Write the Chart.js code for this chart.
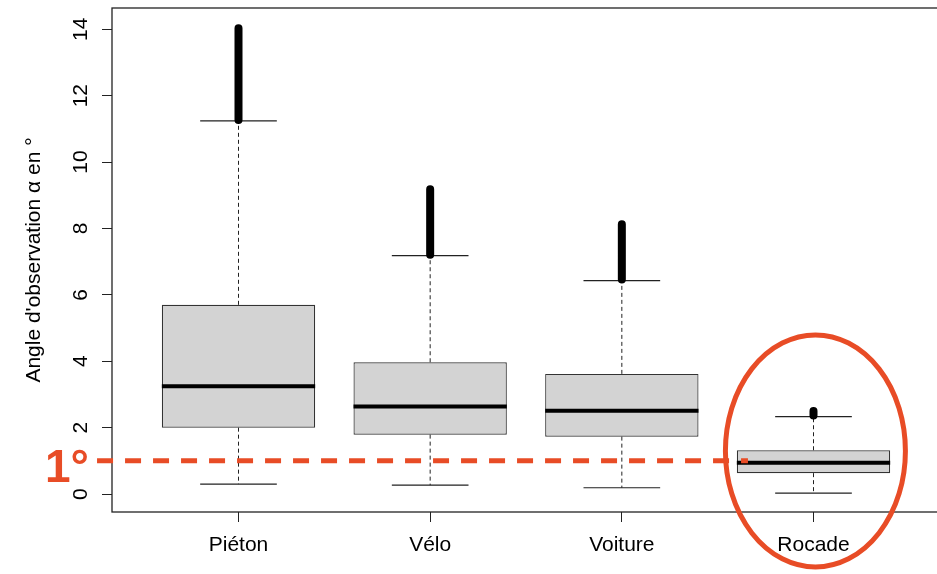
<!DOCTYPE html>
<html>
<head>
<meta charset="utf-8">
<script src="https://cdn.jsdelivr.net/npm/chart.js@4.4.1/dist/chart.umd.min.js"></script>
<style>
  html, body { margin: 0; padding: 0; background: #fff; overflow: hidden; }
  #wrap { width: 937px; height: 574px; overflow: hidden; }
  canvas { display: block; }
</style>
</head>
<body>
<div id="wrap"><canvas id="chart" width="960" height="574"></canvas></div>
<script>
// Box-plot summaries (observation angle, degrees)
const categories = ['Piéton', 'Vélo', 'Voiture', 'Rocade'];
const lowerWhisker = [0.30, 0.27, 0.19, 0.03];
const q1 = [2.00, 1.79, 1.73, 0.63];
const median = [3.25, 2.64, 2.51, 0.94];
const q3 = [5.70, 3.97, 3.62, 1.32];
const upperWhisker = [11.24, 7.18, 6.43, 2.33];
// outliers are so dense they merge into one thick stroke: lowest / highest outlier
const outlierLow = [11.27, 7.21, 6.46, 2.37];
const outlierHigh = [14.03, 9.18, 8.13, 2.50];
const xTicks = [1, 2, 3, 4];
const yTicks = [0, 2, 4, 6, 8, 10, 12, 14];
const refAngle = 1; // the "1°" reference line

const RED = '#e84c26';
const BOX_HALF = 0.4;    // R boxwex 0.8
const STAPLE_HALF = 0.2; // R staplewex 0.5

Chart.defaults.font.family = "'Liberation Sans', Arial, sans-serif";
Chart.defaults.color = '#000';

// helper: list of [from, to] point pairs -> one line dataset with gaps between them
function segments(pairs) {
  const out = [];
  pairs.forEach(p => { out.push(p[0], p[1], { x: p[1].x, y: null }); });
  return out;
}

const boxData = categories.map((c, i) => ({ x: xTicks[i], y: [q1[i], q3[i]] }));
const whiskerData = segments(categories.flatMap((c, i) => [
  [{ x: xTicks[i], y: q3[i] }, { x: xTicks[i], y: upperWhisker[i] }],
  [{ x: xTicks[i], y: q1[i] }, { x: xTicks[i], y: lowerWhisker[i] }]
]));
const stapleData = segments(categories.flatMap((c, i) => [
  [{ x: xTicks[i] - STAPLE_HALF, y: upperWhisker[i] }, { x: xTicks[i] + STAPLE_HALF, y: upperWhisker[i] }],
  [{ x: xTicks[i] - STAPLE_HALF, y: lowerWhisker[i] }, { x: xTicks[i] + STAPLE_HALF, y: lowerWhisker[i] }]
]));
const medianData = segments(categories.map((c, i) =>
  [{ x: xTicks[i] - BOX_HALF, y: median[i] }, { x: xTicks[i] + BOX_HALF, y: median[i] }]));
const outlierData = segments(categories.map((c, i) =>
  [{ x: xTicks[i], y: outlierLow[i] }, { x: xTicks[i], y: outlierHigh[i] }]));

const lineDefaults = { type: 'line', pointRadius: 0, fill: false, tension: 0, spanGaps: false };

// R-style closed frame around the plot region
const framePlugin = {
  id: 'frame',
  afterDraw(chart) {
    const { ctx, chartArea: a } = chart;
    ctx.save();
    ctx.strokeStyle = '#222';
    ctx.lineWidth = 1.3;
    ctx.strokeRect(a.left, a.top, a.right - a.left, a.bottom - a.top);
    ctx.restore();
  }
};

// red overlay: dashed 1° line, its label and the ellipse around "Rocade"
const highlightPlugin = {
  id: 'highlight',
  afterDraw(chart) {
    const { ctx } = chart;
    const xs = chart.scales.x, ys = chart.scales.y;
    const yRef = ys.getPixelForValue(refAngle);
    ctx.save();
    ctx.strokeStyle = RED;
    ctx.fillStyle = RED;
    ctx.lineWidth = 5;
    ctx.setLineDash([16, 12]);
    ctx.beginPath();
    ctx.moveTo(xs.getPixelForValue(0.262), yRef);
    ctx.lineTo(xs.getPixelForValue(3.658), yRef);
    ctx.stroke();
    ctx.setLineDash([]);
    ctx.font = "bold 46px 'Liberation Sans', Arial, sans-serif";
    ctx.textBaseline = 'alphabetic';
    ctx.textAlign = 'left';
    ctx.fillText('1°', 45, yRef + 21.5);
    ctx.beginPath();
    ctx.ellipse(xs.getPixelForValue(4.01), ys.getPixelForValue(1.3), 90, 116, 0, 0, Math.PI * 2);
    ctx.stroke();
    ctx.restore();
  }
};

new Chart(document.getElementById('chart'), {
  type: 'bar',
  data: {
    datasets: [
      {
        type: 'bar',
        label: 'box',
        data: boxData,
        backgroundColor: '#d3d3d3',
        borderColor: '#333',
        borderWidth: 1.2,
        borderSkipped: false,
        barPercentage: 0.8,
        categoryPercentage: 1,
        order: 5
      },
      { ...lineDefaults, label: 'whiskers', data: whiskerData, borderColor: '#222', borderWidth: 1, borderDash: [4, 3], order: 4 },
      { ...lineDefaults, label: 'staples', data: stapleData, borderColor: '#222', borderWidth: 1.2, order: 3 },
      { ...lineDefaults, label: 'median', data: medianData, borderColor: '#000', borderWidth: 4, order: 2 },
      { ...lineDefaults, label: 'outliers', data: outlierData, borderColor: '#000', borderWidth: 8,
        borderCapStyle: 'round', order: 1 }
    ]
  },
  options: {
    responsive: false,
    animation: false,
    layout: { padding: { top: 8, right: 20, bottom: 0, left: 0 } },
    plugins: { legend: { display: false }, tooltip: { enabled: false } },
    scales: {
      x: {
        type: 'linear',
        min: 0.34,
        max: 4.66,
        offset: false,
        afterBuildTicks: s => { s.ticks = xTicks.map(v => ({ value: v })); },
        afterFit: s => { s.height = 62; s.paddingLeft = 0; s.paddingRight = 0; },
        ticks: {
          autoSkip: false,
          maxRotation: 0,
          padding: 10.5,
          font: { size: 21 },
          callback: v => categories[xTicks.indexOf(v)]
        },
        grid: { offset: false, drawOnChartArea: false, drawTicks: true, tickLength: 10, color: '#222' },
        border: { display: false }
      },
      y: {
        type: 'linear',
        min: -0.54,
        max: 14.64,
        afterBuildTicks: s => { s.ticks = yTicks.map(v => ({ value: v })); },
        afterFit: s => { s.width = 112; s.paddingTop = 0; s.paddingBottom = 0; },
        ticks: {
          autoSkip: false,
          minRotation: 90,
          maxRotation: 90,
          crossAlign: 'center',
          padding: 9.5,
          font: { size: 21 }
        },
        grid: { drawOnChartArea: false, drawTicks: true, tickLength: 10, color: '#222' },
        border: { display: false },
        title: {
          display: true,
          text: "Angle d'observation α en °",
          font: { size: 21 },
          padding: { top: 22, bottom: 0 }
        }
      }
    }
  },
  plugins: [framePlugin, highlightPlugin]
});
</script>
</body>
</html>
